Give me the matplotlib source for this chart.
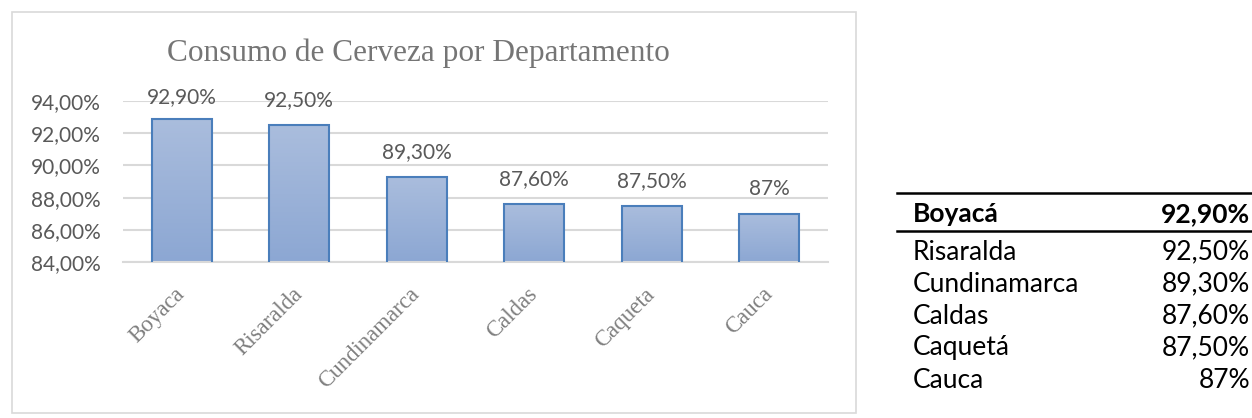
import matplotlib
matplotlib.use("Agg")
import matplotlib.pyplot as plt
import numpy as np
from matplotlib.patches import Rectangle
from matplotlib.colors import LinearSegmentedColormap

# ---- data ----
categories = ["Boyaca", "Risaralda", "Cundinamarca", "Caldas", "Caqueta", "Cauca"]
values = [0.929, 0.925, 0.893, 0.876, 0.875, 0.87]
bar_labels = ["92,90%", "92,50%", "89,30%", "87,60%", "87,50%", "87%"]
yticks = [0.84, 0.86, 0.88, 0.90, 0.92, 0.94]
ytick_labels = ["84,00%", "86,00%", "88,00%", "90,00%", "92,00%", "94,00%"]
title = "Consumo de Cerveza por Departamento"

table_names = ["Boyacá", "Risaralda", "Cundinamarca", "Caldas", "Caquetá", "Cauca"]
table_values = ["92,90%", "92,50%", "89,30%", "87,60%", "87,50%", "87%"]

W, H = 1252, 418
fig = plt.figure(figsize=(W / 100, H / 100), dpi=100)
fig.patch.set_facecolor("white")

def fx(px):
    return px / W

def fy(py):
    return 1 - py / H

SANS = ["Lato", "DejaVu Sans"]
SERIF = ["Liberation Serif", "DejaVu Serif"]

# chart border
border = Rectangle((fx(12), fy(413)), fx(856) - fx(12), fy(12) - fy(413),
                   transform=fig.transFigure, fill=False, edgecolor="#D9D9D9",
                   linewidth=1.2, zorder=0)
fig.add_artist(border)

ax_top_px, ax_bot_px = 101, 262
ax = fig.add_axes([fx(123), fy(ax_bot_px), fx(828) - fx(123), fy(ax_top_px) - fy(ax_bot_px)])
x = np.arange(len(categories))
bars = ax.bar(x, values, width=0.51, color="#9CB2D8", edgecolor="#4A7EBB",
              linewidth=1.5, zorder=3)

# gradient fill clipped to each bar
grad = np.linspace(0, 1, 256).reshape(-1, 1)
cmap = LinearSegmentedColormap.from_list("g", ["#8CA7D3", "#AABDDD"])
for b in bars:
    x0, w = b.get_x(), b.get_width()
    im = ax.imshow(grad, extent=[x0, x0 + w, 0.84, b.get_height()], origin="lower",
                   cmap=cmap, aspect="auto", zorder=2.5)
    im.set_clip_path(b)
    b.set_facecolor("none")

ymin, ymax = 0.84, 0.94
ax.set_xlim(-0.5, len(categories) - 0.5)
ax.set_ylim(ymin, ymax)
ax.set_yticks(yticks)
ax.set_yticklabels(ytick_labels, fontfamily=SANS, fontsize=15, color="#595959")
ax.yaxis.grid(True, color="#D9D9D9", linewidth=1.5, zorder=0)
ax.set_axisbelow(True)
for s in ["top", "right", "left"]:
    ax.spines[s].set_visible(False)
ax.spines["bottom"].set_color("#D9D9D9")
ax.spines["bottom"].set_linewidth(1.5)
ax.tick_params(axis="y", length=0, pad=16)
ax.tick_params(axis="x", length=0, pad=21)
ax.set_xticks(x)
ax.set_xticklabels(categories, rotation=45, ha="right", va="center",
                   rotation_mode="anchor", fontfamily=SERIF, fontsize=16.5,
                   color="#7F7F7F")

# data labels: ~25 px above bar top, but kept within the chart's upper margin
px_per_unit = (ax_bot_px - ax_top_px) / (ymax - ymin)
label_gap = 25 / px_per_unit
label_cap = ymax + 4 / px_per_unit
for xi, v, lab in zip(x, values, bar_labels):
    ax.text(xi, min(v + label_gap, label_cap), lab, ha="center", va="center",
            fontfamily=SANS, fontsize=15, color="#595959", clip_on=False)

fig.text(fx(418), fy(61), title, ha="center", va="baseline", fontfamily=SERIF,
         fontsize=22.5, color="#757575")

# ---- right-hand table ----
row_y = [214, 252, 284, 316, 348, 380]
for i, (n, v) in enumerate(zip(table_names, table_values)):
    weight = "bold" if i == 0 else "normal"
    fig.text(fx(913), fy(row_y[i]), n, ha="left", va="center", fontfamily=SANS,
             fontsize=19, color="black", fontweight=weight)
    fig.text(fx(1250), fy(row_y[i]), v, ha="right", va="center", fontfamily=SANS,
             fontsize=19, color="black", fontweight=weight)

for ly in (193, 231):
    fig.add_artist(plt.Line2D([fx(897), fx(1252)], [fy(ly), fy(ly)],
                              transform=fig.transFigure, color="black", linewidth=1.8))

fig.savefig("out.png", dpi=100)
